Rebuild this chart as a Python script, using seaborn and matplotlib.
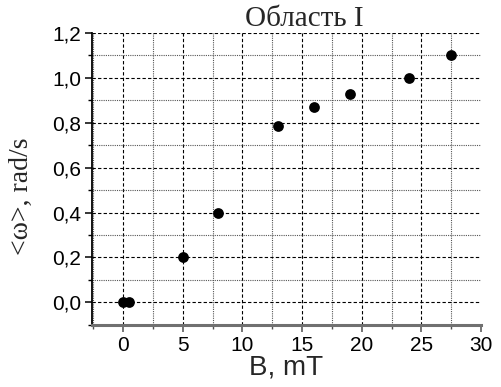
import matplotlib
matplotlib.use("Agg")
import matplotlib.pyplot as plt
from matplotlib.ticker import MultipleLocator, FuncFormatter
import pandas as pd
import seaborn as sns

# data
field_mT = [0.0, 0.5, 5.0, 8.0, 13.0, 16.0, 19.0, 24.0, 27.5]
omega = [0.0, 0.0, 0.20, 0.40, 0.785, 0.87, 0.93, 1.0, 1.10]

df = pd.DataFrame({"B": field_mT, "omega": omega})

sns.set_style("ticks")
plt.rcParams["font.family"] = ["Liberation Sans", "DejaVu Sans"]

fig = plt.figure(figsize=(5.02, 3.87), dpi=100)
ax = fig.add_axes([92 / 502, 1 - 324.7 / 387, (481 - 92) / 502, (324.7 - 33) / 387])

sns.scatterplot(data=df, x="B", y="omega", ax=ax, color="black", s=60,
                edgecolor="black", linewidth=0, zorder=5, clip_on=False)

ax.set_xlim(-2.6, 30)
ax.set_ylim(-0.1, 1.2)

ax.xaxis.set_major_locator(MultipleLocator(5))
ax.xaxis.set_minor_locator(MultipleLocator(2.5))
ax.yaxis.set_major_locator(MultipleLocator(0.2))
ax.yaxis.set_minor_locator(MultipleLocator(0.1))
ax.yaxis.set_major_formatter(FuncFormatter(lambda v, p: f"{v:.1f}".replace(".", ",")))
ax.xaxis.set_major_formatter(FuncFormatter(lambda v, p: f"{v:.0f}"))

# grid: major dashed, minor dotted
ax.grid(which="major", color="black", linestyle=(0, (3, 2)), linewidth=0.8)
ax.grid(which="minor", color="#555555", linestyle=(0, (1, 1)), linewidth=0.8)
for gl in ax.xaxis.get_gridlines():
    if abs(gl.get_xdata()[0] - 30) < 1e-6:
        gl.set_visible(False)
ax.yaxis.get_gridlines()[-1].set_visible(False)
ax.set_axisbelow(True)

for side in ["top", "right"]:
    ax.spines[side].set_visible(False)
ax.spines["left"].set_color("black")
ax.spines["left"].set_linewidth(1.3)
ax.spines["bottom"].set_color("#707070")
ax.spines["bottom"].set_linewidth(2.2)

ax.tick_params(which="major", direction="out", length=5, width=1.1,
               labelsize=15, colors="black", pad=3)
ax.tick_params(which="minor", direction="out", length=3, width=1.0, colors="black")
ax.tick_params(axis="x", which="both", color="#505050")

ax.set_xlabel("B, mT", fontsize=20, labelpad=0)
ax.set_ylabel("<ω>, rad/s", fontsize=20, family=["Liberation Serif", "DejaVu Serif"])
ax.yaxis.set_label_coords(-0.15, 0.44)

fig.text(304 / 502, 1 - 18.5 / 387, "Область I", fontsize=21,
         family=["Liberation Serif", "DejaVu Serif"], ha="center", va="center")

fig.savefig("out.png", dpi=100)
